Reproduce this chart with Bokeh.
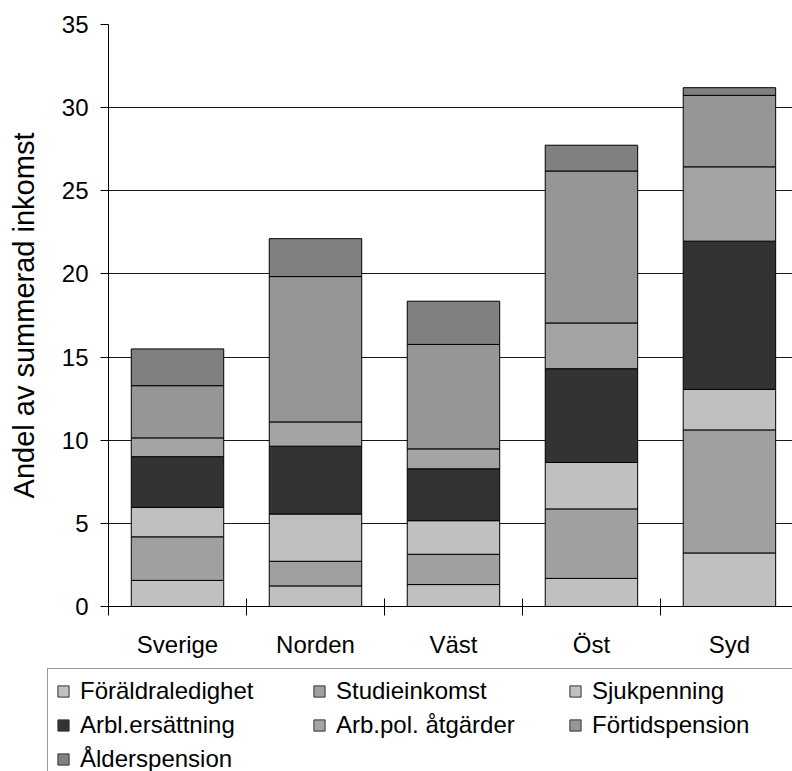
from bokeh.plotting import figure
from bokeh.layouts import column
from bokeh.models import (ColumnDataSource, Range1d, FixedTicker, CustomJSTickFormatter,
                          Legend, LegendItem)
from bokeh.embed import file_html
from bokeh.resources import INLINE

# ---- data (percent of summed income) ----
categories = ["Sverige", "Norden", "Väst", "Öst", "Syd"]
series_names = ["Föräldraledighet", "Studieinkomst", "Sjukpenning", "Arbl.ersättning",
                "Arb.pol. åtgärder", "Förtidspension", "Ålderspension"]
foraldraledighet = [1.57, 1.24, 1.32, 1.69, 3.22]
studieinkomst = [2.62, 1.48, 1.82, 4.18, 7.40]
sjukpenning = [1.77, 2.84, 2.02, 2.79, 2.44]
arbl_ersattning = [3.05, 4.08, 3.12, 5.64, 8.91]
arbpol_atgarder = [1.13, 1.46, 1.20, 2.75, 4.47]
fortidspension = [3.14, 8.74, 6.28, 9.14, 4.30]
alderspension = [2.21, 2.28, 2.60, 1.55, 0.46]
y_ticks = [0, 5, 10, 15, 20, 25, 30, 35]

colors = ["#c0c0c0", "#a0a0a0", "#c0c0c0", "#333333", "#a4a4a4", "#969696", "#808080"]
FONT = "Liberation Sans"

series = [foraldraledighet, studieinkomst, sjukpenning, arbl_ersattning,
          arbpol_atgarder, fortidspension, alderspension]
keys = [f"s{i}" for i in range(len(series))]
centers = [i + 0.5 for i in range(len(categories))]
data = {"x": centers}
for k, vals in zip(keys, series):
    data[k] = vals
source = ColumnDataSource(data)

MAIN_H = 662
p = figure(width=792, height=MAIN_H, output_backend="svg", toolbar_location=None,
           x_range=Range1d(0, 4.957), y_range=Range1d(0, 35),
           min_border_left=108, min_border_right=0, min_border_top=24,
           min_border_bottom=MAIN_H - 606)
p.outline_line_color = None
p.background_fill_color = "white"

renderers = p.vbar_stack(keys, x="x", width=0.67, source=source,
                         fill_color=colors, line_color="black", line_width=1)

# grid
p.xgrid.visible = False
p.ygrid.ticker = FixedTicker(ticks=y_ticks)
p.ygrid.grid_line_color = "#1a1a1a"
p.ygrid.grid_line_width = 1

# y axis
ya = p.yaxis[0]
ya.ticker = FixedTicker(ticks=y_ticks)
ya.axis_label = "Andel av summerad inkomst"
ya.axis_label_text_font = FONT
ya.axis_label_text_font_size = "29px"
ya.axis_label_text_font_style = "normal"
ya.axis_label_text_color = "black"
ya.axis_label_standoff = 19
ya.major_label_text_font = FONT
ya.major_label_text_font_size = "24px"
ya.major_label_text_color = "black"
ya.major_label_standoff = 12
ya.major_tick_in = 0
ya.major_tick_out = 8
ya.minor_tick_line_color = None
ya.axis_line_color = "black"
ya.major_tick_line_color = "black"

# x axis
xa = p.xaxis[0]
xa.ticker = FixedTicker(ticks=centers, minor_ticks=list(range(len(categories) + 1)))
xa.formatter = CustomJSTickFormatter(args=dict(cats=categories),
                                     code="return cats[Math.floor(tick)] || '';")
xa.major_label_text_font = FONT
xa.major_label_text_font_size = "24px"
xa.major_label_text_color = "black"
xa.major_label_standoff = 15
xa.major_tick_in = 0
xa.major_tick_out = 0
xa.major_tick_line_color = None
xa.minor_tick_in = 8
xa.minor_tick_out = 9
xa.minor_tick_line_color = "black"
xa.axis_line_color = "black"

# legend strip below the chart (legend-only renderers, hidden)
LEG_H = 771 - MAIN_H
p2 = figure(width=792, height=LEG_H, output_backend="svg", toolbar_location=None,
            x_axis_type=None, y_axis_type=None, min_border=0,
            x_range=Range1d(0, 1), y_range=Range1d(0, 1))
p2.frame_align = False
p2.outline_line_color = None
legend_renderers = p2.vbar_stack(keys, x="x", width=0.67, source=source,
                                 fill_color=colors, line_color="#333333",
                                 visible=False)
items = [LegendItem(label=name, renderers=[r])
         for name, r in zip(series_names, legend_renderers)]
legend = Legend(items=items, orientation="horizontal", ncols=3,
                location=(47, -11), margin=0, padding=8,
                glyph_width=14, glyph_height=14, label_standoff=10,
                label_width=226, label_height=20, spacing=6,
                label_text_font=FONT, label_text_font_size="24px",
                label_text_color="black",
                inactive_fill_alpha=0.0,
                border_line_color="#333333", border_line_width=1,
                background_fill_color="white", background_fill_alpha=1.0)
p2.add_layout(legend, "center")

layout = column(p, p2, spacing=0)
open("out.html", "w").write(file_html(layout, INLINE))
